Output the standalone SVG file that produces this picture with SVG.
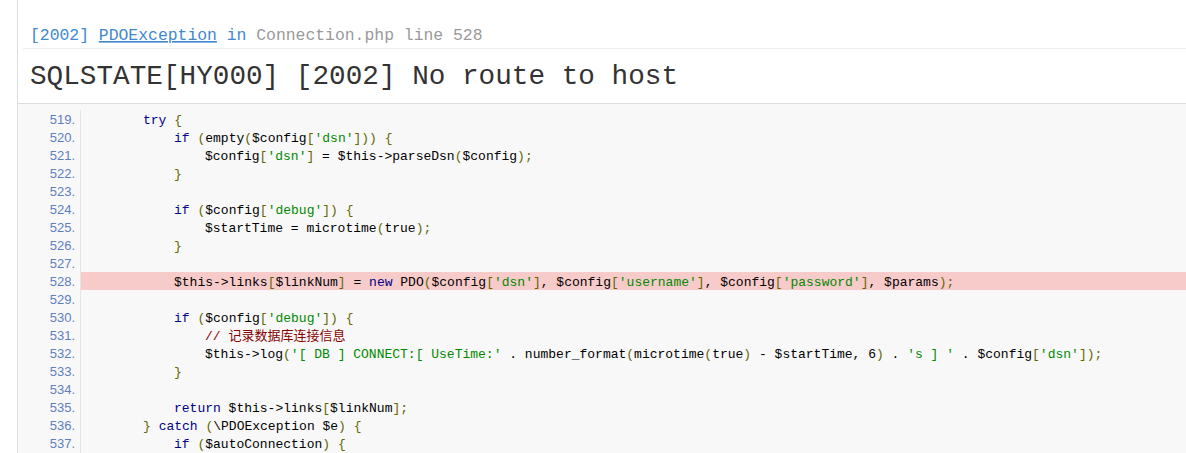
<svg xmlns="http://www.w3.org/2000/svg" width="1186" height="453" viewBox="0 0 1186 453">
<style>
.c{font-family:"Liberation Mono","Noto Sans CJK SC",monospace;font-size:13px;fill:#000}
.k{fill:#008}.s{fill:#080}.p{fill:#660}.m{fill:#800}
.n{font-family:"Liberation Sans",sans-serif;font-size:13px;fill:#5f7fbf;text-anchor:end}
</style>
<rect width="1186" height="453" fill="#fff"/>
<line x1="17.5" y1="0" x2="17.5" y2="453" stroke="#ddd"/>
<g id="header">
<text x="30" y="40" font-family="Liberation Mono,monospace" font-size="16.4" fill="#999"><tspan fill="#4288ce">[2002] </tspan><tspan fill="#4288ce" text-decoration="underline" text-decoration-style="dotted">PDOException</tspan><tspan fill="#4288ce"> in</tspan> Connection.php line 528</text>
<line x1="23" y1="48.5" x2="1186" y2="48.5" stroke="#eee"/>
<text x="30" y="84" font-family="Liberation Mono,monospace" font-size="27.7" fill="#333">SQLSTATE[HY000] [2002] No route to host</text>
</g>
<g id="code">
<rect x="18" y="103" width="1168" height="350" fill="#f8f8f8"/>
<line x1="18" y1="103.5" x2="1186" y2="103.5" stroke="#ddd"/>
<line x1="80.5" y1="110" x2="80.5" y2="453" stroke="#e4e4e4"/>
<rect x="81" y="272" width="1105" height="18" fill="#f8cbcb"/>
<g>
<text class="n" x="75" y="124">519.</text><text class="n" x="75" y="142">520.</text><text class="n" x="75" y="160">521.</text><text class="n" x="75" y="178">522.</text><text class="n" x="75" y="196">523.</text><text class="n" x="75" y="214">524.</text><text class="n" x="75" y="232">525.</text><text class="n" x="75" y="250">526.</text><text class="n" x="75" y="268">527.</text><text class="n" x="75" y="286">528.</text><text class="n" x="75" y="304">529.</text><text class="n" x="75" y="322">530.</text><text class="n" x="75" y="340">531.</text><text class="n" x="75" y="358">532.</text><text class="n" x="75" y="376">533.</text><text class="n" x="75" y="394">534.</text><text class="n" x="75" y="412">535.</text><text class="n" x="75" y="430">536.</text><text class="n" x="75" y="448">537.</text>
</g>
<g xml:space="preserve">
<text class="c" x="143" y="124"><tspan class="k">try</tspan> <tspan class="p">{</tspan></text>
<text class="c" x="174" y="142"><tspan class="k">if</tspan> <tspan class="p">(</tspan>empty<tspan class="p">(</tspan>$config<tspan class="p">[</tspan><tspan class="s">'dsn'</tspan><tspan class="p">]))</tspan> <tspan class="p">{</tspan></text>
<text class="c" x="205" y="160">$config<tspan class="p">[</tspan><tspan class="s">'dsn'</tspan><tspan class="p">]</tspan> = $this-&gt;parseDsn<tspan class="p">(</tspan>$config<tspan class="p">);</tspan></text>
<text class="c" x="174" y="178"><tspan class="p">}</tspan></text>
<text class="c" x="174" y="214"><tspan class="k">if</tspan> <tspan class="p">(</tspan>$config<tspan class="p">[</tspan><tspan class="s">'debug'</tspan><tspan class="p">])</tspan> <tspan class="p">{</tspan></text>
<text class="c" x="205" y="232">$startTime = microtime<tspan class="p">(</tspan>true<tspan class="p">);</tspan></text>
<text class="c" x="174" y="250"><tspan class="p">}</tspan></text>
<text class="c" x="174" y="286">$this-&gt;links<tspan class="p">[</tspan>$linkNum<tspan class="p">]</tspan> = <tspan class="k">new</tspan> PDO<tspan class="p">(</tspan>$config<tspan class="p">[</tspan><tspan class="s">'dsn'</tspan><tspan class="p">]</tspan>, $config<tspan class="p">[</tspan><tspan class="s">'username'</tspan><tspan class="p">]</tspan>, $config<tspan class="p">[</tspan><tspan class="s">'password'</tspan><tspan class="p">]</tspan>, $params<tspan class="p">);</tspan></text>
<text class="c" x="174" y="322"><tspan class="k">if</tspan> <tspan class="p">(</tspan>$config<tspan class="p">[</tspan><tspan class="s">'debug'</tspan><tspan class="p">])</tspan> <tspan class="p">{</tspan></text>
<text class="c m" x="205" y="340">// 记录数据库连接信息</text>
<text class="c" x="205" y="358">$this-&gt;log<tspan class="p">(</tspan><tspan class="s">'[ DB ] CONNECT:[ UseTime:'</tspan> . number_format<tspan class="p">(</tspan>microtime<tspan class="p">(</tspan>true<tspan class="p">)</tspan> - $startTime, 6<tspan class="p">)</tspan> . <tspan class="s">'s ] '</tspan> . $config<tspan class="p">[</tspan><tspan class="s">'dsn'</tspan><tspan class="p">]);</tspan></text>
<text class="c" x="174" y="376"><tspan class="p">}</tspan></text>
<text class="c" x="174" y="412"><tspan class="k">return</tspan> $this-&gt;links<tspan class="p">[</tspan>$linkNum<tspan class="p">];</tspan></text>
<text class="c" x="143" y="430"><tspan class="p">}</tspan> <tspan class="k">catch</tspan> <tspan class="p">(</tspan>\PDOException $e<tspan class="p">)</tspan> <tspan class="p">{</tspan></text>
<text class="c" x="174" y="448"><tspan class="k">if</tspan> <tspan class="p">(</tspan>$autoConnection<tspan class="p">)</tspan> <tspan class="p">{</tspan></text>
</g>
</g>
</svg>
